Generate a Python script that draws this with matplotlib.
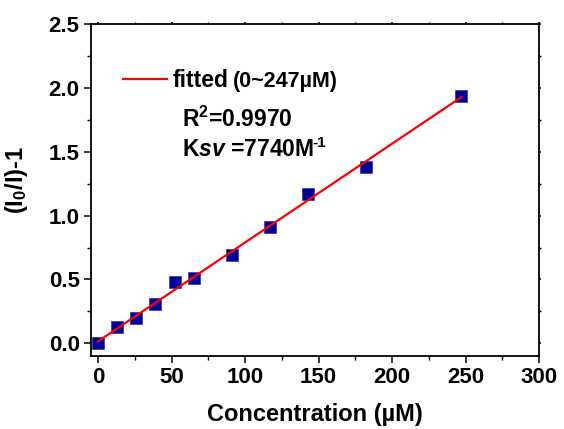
import matplotlib.pyplot as plt
import numpy as np
from matplotlib.ticker import MultipleLocator

plt.rcParams['font.family'] = ['Liberation Sans', 'DejaVu Sans']
plt.rcParams['font.weight'] = 'bold'
plt.rcParams['mathtext.fontset'] = 'custom'
plt.rcParams['mathtext.rm'] = 'Liberation Sans:bold'
plt.rcParams['mathtext.bf'] = 'Liberation Sans:bold'
plt.rcParams['mathtext.it'] = 'Liberation Sans:bold:italic'

# data
conc = [0, 13, 26, 39, 52, 65, 91, 117, 143, 182, 247]
ratio = [0.0, 0.13, 0.20, 0.31, 0.48, 0.51, 0.69, 0.91, 1.17, 1.38, 1.94]
xticks = [0, 50, 100, 150, 200, 250, 300]
yticks = [0.0, 0.5, 1.0, 1.5, 2.0, 2.5]

fig = plt.figure(figsize=(5.64, 4.29), dpi=100)
ax = fig.add_axes([0.161, 0.170, 0.795, 0.774])

slope, icpt = np.polyfit(conc, ratio, 1)
xf = np.array([conc[0], conc[-1]])

ax.plot(conc, ratio, 's', color='#000099', mec='#3333aa', mew=0.5, ms=8.5, zorder=2)
line, = ax.plot(xf, slope * xf + icpt, color='red', lw=1.6, zorder=3)

ax.set_xlim(-5, 300)
ax.set_ylim(-0.1, 2.5)
ax.set_xticks(xticks)
ax.set_yticks(yticks)
ax.xaxis.set_minor_locator(MultipleLocator(25))
ax.yaxis.set_minor_locator(MultipleLocator(0.25))
ax.set_xticklabels([str(t) for t in xticks])
ax.set_yticklabels(['%.1f' % t for t in yticks])

for s in ax.spines.values():
    s.set_linewidth(1.3)
ax.tick_params(which='major', direction='out', length=5, width=1.1, labelsize=16, pad=3)
ax.tick_params(which='minor', direction='out', length=3, width=1.0)
ax.tick_params(which='both', top=True, right=True)
# tiny ticks on the top and right spines
for t in ax.xaxis.get_ticklines(minor=False)[1::2] + ax.xaxis.get_ticklines(minor=True)[1::2]:
    t.set_markersize(1.5)
for t in ax.yaxis.get_ticklines(minor=False)[1::2] + ax.yaxis.get_ticklines(minor=True)[1::2]:
    t.set_markersize(1.5)

ax.set_xlabel('Concentration (µM)', fontsize=17, fontweight='bold', labelpad=11)
ax.set_ylabel(r'(I$_{\mathrm{0}}$/I)-1', fontsize=17, fontweight='bold')
ax.yaxis.set_label_coords(-0.135, 0.53)

leg = ax.legend([line], ['fitted'], loc='center left', bbox_to_anchor=(0.071, 0.831),
                frameon=False, fontsize=16.5, handlelength=1.95, handletextpad=0.25,
                borderpad=0, borderaxespad=0)
ax.text(0.317, 0.828, '(0~247µM)', transform=ax.transAxes, fontsize=15.5,
        fontweight='bold', va='center', ha='left')
ax.text(0.203, 0.714, r'R$^{\mathrm{2}}$=0.9970', transform=ax.transAxes, fontsize=16.5,
        fontweight='bold', va='center', ha='left')
ksv = ax.text(0.203, 0.623, r'K$\mathit{sv}$ =7740M', transform=ax.transAxes,
              fontsize=16.5, fontweight='bold', va='center', ha='left')
ax.annotate('-1', xy=(1, 1), xycoords=ksv, xytext=(-1, 1), textcoords='offset points',
            fontsize=11, fontweight='bold', va='top', ha='left')

fig.savefig('out.png', dpi=100)
